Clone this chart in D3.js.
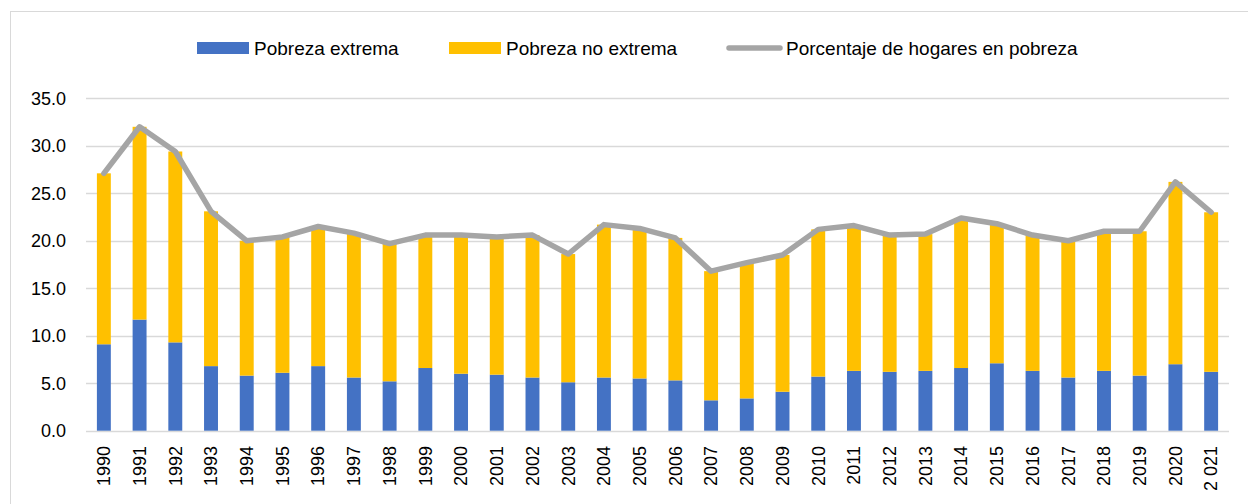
<!DOCTYPE html>
<html lang="es">
<head>
<meta charset="UTF-8">
<title>Pobreza</title>
<script src="https://cdn.jsdelivr.net/npm/d3@7"></script>
<style>
  body { margin: 0; background: #fff; }
  text { font-family: "Liberation Sans", Arial, sans-serif; fill: #000; }
</style>
</head>
<body>
<svg id="chart" width="1248" height="504"></svg>
<script>
// years shown on the x axis (last label is written "2 021" in the source)
const years = ["1990","1991","1992","1993","1994","1995","1996","1997","1998","1999",
  "2000","2001","2002","2003","2004","2005","2006","2007","2008","2009",
  "2010","2011","2012","2013","2014","2015","2016","2017","2018","2019","2020","2 021"];
const extrema = [9.1,11.7,9.3,6.8,5.8,6.1,6.8,5.6,5.2,6.6,6.0,5.9,5.6,5.1,5.6,5.5,5.3,3.2,3.4,4.1,
  5.7,6.3,6.2,6.3,6.6,7.1,6.3,5.6,6.3,5.8,7.0,6.2];
const noExtrema = [18.0,20.3,20.1,16.3,14.2,14.3,14.7,15.2,14.5,14.0,14.6,14.5,15.0,13.5,16.1,15.8,15.0,13.6,14.3,14.4,
  15.5,15.3,14.4,14.4,15.8,14.7,14.3,14.4,14.7,15.2,19.2,16.8];
const hogares = [27.1,32.0,29.4,23.1,20.0,20.4,21.5,20.8,19.7,20.6,20.6,20.4,20.6,18.6,21.7,21.3,20.3,16.8,17.7,18.5,
  21.2,21.6,20.6,20.7,22.4,21.8,20.6,20.0,21.0,21.0,26.2,23.0];
const yTicks = [0,5,10,15,20,25,30,35];
const seriesNames = ["Pobreza extrema", "Pobreza no extrema", "Porcentaje de hogares en pobreza"];

const blue = "#4472C4", gold = "#FFC000", grey = "#A5A5A5", grid = "#D9D9D9";

const svg = d3.select("#chart");

// outer frame of the chart area
svg.append("rect")
  .attr("x", 10.5).attr("y", 11.5)
  .attr("width", 1300).attr("height", 600)
  .attr("fill", "none").attr("stroke", grid);

const x = d3.scaleBand().domain(years).range([86, 1229]).paddingInner(0.61).paddingOuter(0.305);
const y = d3.scaleLinear().domain([0, 35]).range([430.7, 98.3]);

// gridlines
svg.append("g").selectAll("line")
  .data(yTicks).join("line")
  .attr("x1", 86).attr("x2", 1229)
  .attr("y1", d => Math.round(y(d)) + 0.5).attr("y2", d => Math.round(y(d)) + 0.5)
  .attr("stroke", grid).attr("stroke-width", 1.5);

// y labels
svg.append("g").selectAll("text")
  .data(yTicks).join("text")
  .attr("x", 66).attr("y", d => y(d))
  .attr("dy", "0.35em")
  .attr("text-anchor", "end")
  .style("font-size", "18px")
  .text(d => d.toFixed(1));

// stacked bars
const stackData = years.map((yr, i) => ({ year: yr, ext: extrema[i], noext: noExtrema[i] }));
const stacked = d3.stack().keys(["ext", "noext"])(stackData);
const colors = [blue, gold];

svg.append("g").selectAll("g")
  .data(stacked).join("g")
  .attr("fill", (d, i) => colors[i])
  .selectAll("rect")
  .data(d => d).join("rect")
  .attr("x", d => x(d.data.year))
  .attr("width", x.bandwidth())
  .attr("y", d => y(d[1]))
  .attr("height", d => y(d[0]) - y(d[1]));

// total line
const line = d3.line()
  .x((d, i) => x(years[i]) + x.bandwidth() / 2)
  .y(d => y(d));

svg.append("path")
  .datum(hogares)
  .attr("d", line)
  .attr("fill", "none")
  .attr("stroke", grey)
  .attr("stroke-width", 5.5)
  .attr("stroke-linejoin", "round")
  .attr("stroke-linecap", "round");

// x labels, rotated
svg.append("g").selectAll("text")
  .data(years).join("text")
  .attr("transform", d => `translate(${x(d) + x.bandwidth() / 2},446) rotate(-90)`)
  .attr("dy", "0.35em")
  .attr("text-anchor", "end")
  .style("font-size", "18px")
  .text(d => d);

// legend
const legend = svg.append("g");
legend.append("rect").attr("x", 197).attr("y", 42).attr("width", 52).attr("height", 12).attr("fill", blue);
legend.append("text").attr("x", 254).attr("y", 48).attr("dy", "0.35em").style("font-size", "19px").text(seriesNames[0]);
legend.append("rect").attr("x", 449).attr("y", 42).attr("width", 52).attr("height", 12).attr("fill", gold);
legend.append("text").attr("x", 506).attr("y", 48).attr("dy", "0.35em").style("font-size", "19px").text(seriesNames[1]);
legend.append("line").attr("x1", 729).attr("x2", 780).attr("y1", 48).attr("y2", 48)
  .attr("stroke", grey).attr("stroke-width", 5.5).attr("stroke-linecap", "round");
legend.append("text").attr("x", 786).attr("y", 48).attr("dy", "0.35em").style("font-size", "19px").text(seriesNames[2]);
</script>
</body>
</html>
